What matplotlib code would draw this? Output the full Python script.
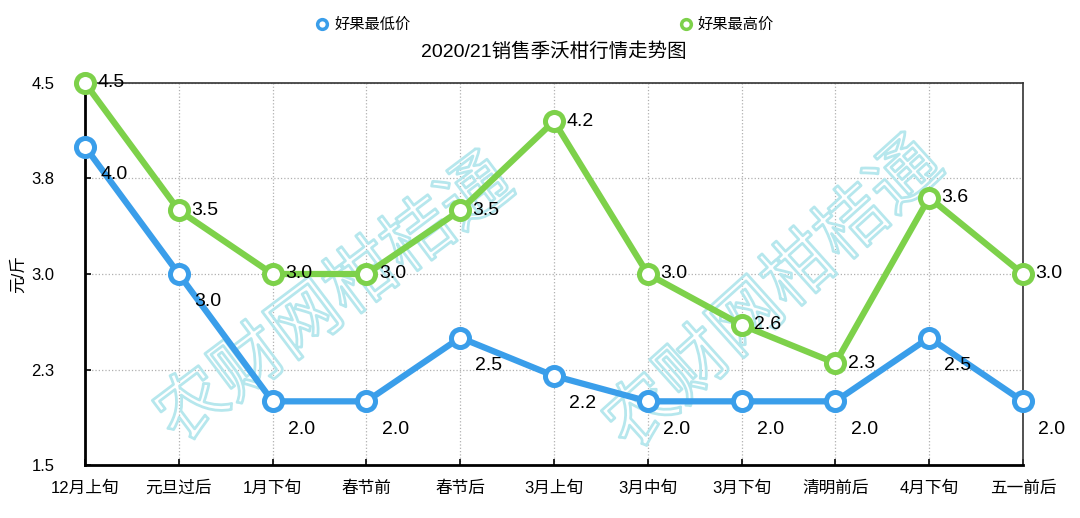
import matplotlib
matplotlib.use('Agg')
import matplotlib.pyplot as plt
import matplotlib.patheffects as pe
from matplotlib.lines import Line2D
import numpy as np

plt.rcParams['font.family'] = ['Liberation Sans', 'Noto Sans CJK SC', 'DejaVu Sans']

categories = ['12月上旬', '元旦过后', '1月下旬', '春节前', '春节后', '3月上旬',
              '3月中旬', '3月下旬', '清明前后', '4月下旬', '五一前后']
low_price = [4.0, 3.0, 2.0, 2.0, 2.5, 2.2, 2.0, 2.0, 2.0, 2.5, 2.0]
high_price = [4.5, 3.5, 3.0, 3.0, 3.5, 4.2, 3.0, 2.6, 2.3, 3.6, 3.0]
y_ticks = [1.5, 2.25, 3.0, 3.75, 4.5]
y_ticklabels = ['1.5', '2.3', '3.0', '3.8', '4.5']

blue = '#3a9eea'
green = '#7dd14a'

fig = plt.figure(figsize=(10.8, 5.18), dpi=100)
ax = fig.add_axes([0.0787, 0.1023, 0.8685, 0.7375])
x = np.arange(len(categories))

# watermark (outlined text, under the lines)
for cx, cy, rot in [(0.31, 0.42, 37), (0.717, 0.43, 42)]:
    ax.text(cx, cy, '农财网柑桔通', fontsize=51, family=['Noto Sans CJK SC'],
            fontweight='light', rotation=rot, ha='center', va='center',
            color=(1, 1, 1, 0), zorder=2, transform=fig.transFigure,
            path_effects=[pe.Stroke(linewidth=2.0, foreground='#b6e7ed'), pe.Normal()])

ax.plot(x, low_price, color=blue, lw=4.5, marker='o', ms=13, mfc='white',
        mec=blue, mew=3.6, clip_on=False, zorder=3)
ax.plot(x, high_price, color=green, lw=4.5, marker='o', ms=13, mfc='white',
        mec=green, mew=3.6, clip_on=False, zorder=3)

for xi, v in zip(x, low_price):
    ax.annotate(f'{v:.1f}', (xi, v), xytext=(11, -20), textcoords='offset points',
                ha='left', va='center', fontsize=14, zorder=4)
for xi, v in zip(x, high_price):
    ax.annotate(f'{v:.1f}', (xi, v), xytext=(9, 0), textcoords='offset points',
                ha='left', va='center', fontsize=14, zorder=4)

ax.set_xlim(0, len(categories) - 1)
ax.set_ylim(1.5, 4.5)
ax.set_xticks(x)
ax.set_xticklabels(categories, fontsize=12)
ax.set_yticks(y_ticks)
ax.set_yticklabels(y_ticklabels, fontsize=12)
ax.tick_params(direction='in', length=4, width=1.2)
ax.tick_params(axis='x', pad=11)
ax.tick_params(axis='y', pad=22)
ax.grid(True, ls=':', color='#b0b0b0', lw=0.9)
ax.set_axisbelow(True)
for s in ['left', 'bottom']:
    ax.spines[s].set_linewidth(2)
for s in ['top', 'right']:
    ax.spines[s].set_linewidth(1.2)
    ax.spines[s].set_color('#333333')
ax.set_ylabel('元/斤', fontsize=12, labelpad=4)

fig.text(0.513, 0.9, '2020/21销售季沃柑行情走势图', ha='center', va='center', fontsize=14)

handles = [Line2D([], [], ls='none', marker='o', ms=7, mfc='white', mec=blue, mew=2.5),
           Line2D([], [], ls='none', marker='o', ms=7, mfc='white', mec=green, mew=2.5)]
fig.legend(handles, ['好果最低价', '好果最高价'], loc='center', bbox_to_anchor=(0.504, 0.952),
           ncol=2, frameon=False, fontsize=11, columnspacing=17.5, handletextpad=0.3,
           handlelength=1)

fig.savefig('out.png', dpi=100)
